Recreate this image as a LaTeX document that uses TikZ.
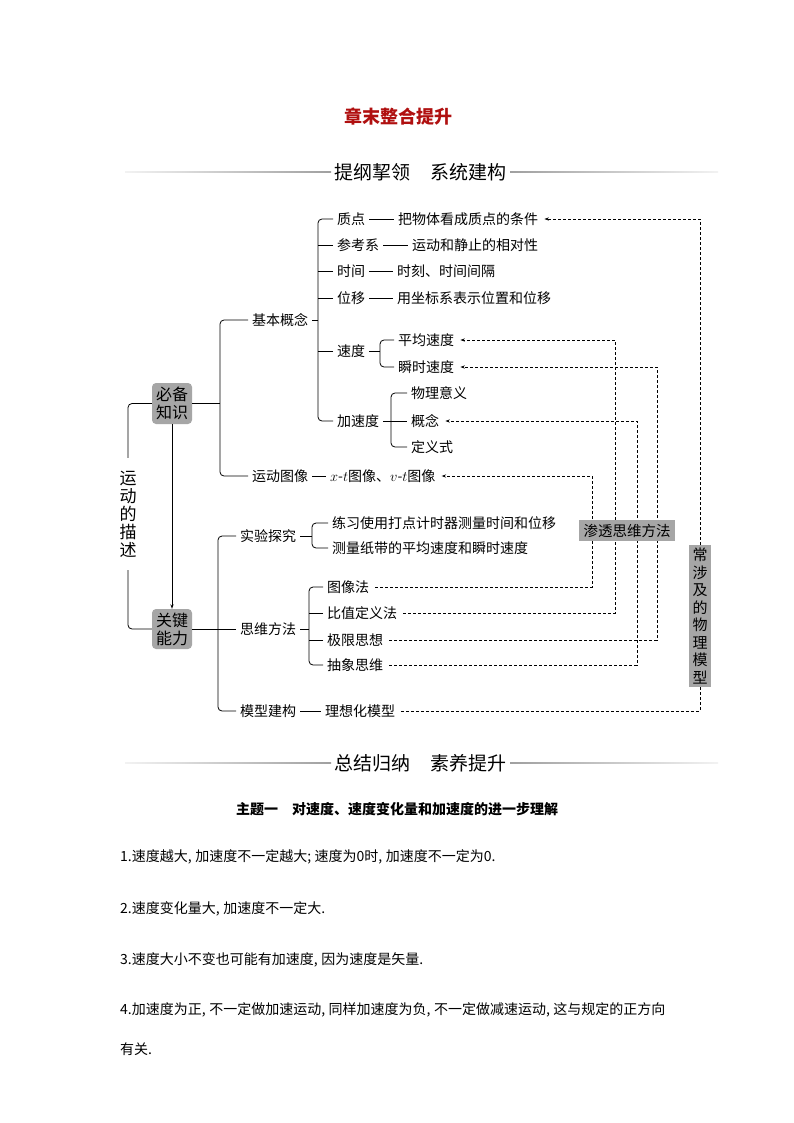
\documentclass[tikz,border=0pt]{standalone}
\usepackage{fontspec}
\setmainfont{Noto Sans CJK SC}
\usetikzlibrary{arrows.meta}
\definecolor{ttlred}{RGB}{176,16,16}
\definecolor{boxgray}{RGB}{166,166,166}
\newcommand{\cm}{,\hspace{3.5pt}}
\tikzset{
  every node/.style={font=\fontsize{14}{16}\selectfont},
  txt/.style={anchor=west, inner xsep=4pt, inner ysep=1pt},
  ln/.style={line width=0.8pt},
  rc/.style={ln, rounded corners=4pt},
  dsh/.style={line width=0.7pt, dash pattern=on 3pt off 2pt, shorten <=2pt, shorten >=2pt},
  tip/.style={-{Stealth[length=4.5pt,width=3.2pt]}},
  gbox/.style={fill=boxgray, inner sep=0pt, align=center},
  hdr/.style={font=\fontsize{19}{21}\selectfont},
  body/.style={anchor=west, inner sep=0pt}
}
\begin{document}
\begin{tikzpicture}[x=1pt,y=-1pt]
\useasboundingbox (0,0) rectangle (794,1123);
\fill[white] (0,0) rectangle (794,1123);

% title and headers
\node[font=\bfseries\fontsize{18}{20}\selectfont, text=ttlred] (title) at (398,117) {章末整合提升};
\node[hdr] (h1) at (420.5,172) {提纲挈领\hspace{1.1em}系统建构};
\shade[left color=gray!10, right color=gray!75] (125,171.3) rectangle (331,172.7);
\shade[left color=gray!75, right color=gray!10] (510,171.3) rectangle (718,172.7);

% left boxes
\node[gbox, rounded corners=4pt, minimum width=40pt, minimum height=41pt, font=\fontsize{16}{18}\selectfont] (bx1) at (172,403.5) {必备\\知识};
\node[gbox, rounded corners=4pt, minimum width=40pt, minimum height=40pt, font=\fontsize{16}{18}\selectfont] (bx2) at (172,629) {关键\\能力};
\node[inner sep=0pt, minimum height=112pt, align=center, font=\fontsize{17}{18}\selectfont] (ms) at (128,514) {运\\动\\的\\描\\述};

% upper tree
\coordinate (b1) at (220,403.5);
\node[txt] (jbgn) at (248,320) {基本概念};
\node[txt] (ydtx) at (248,476) {运动图像};
\node[txt] (xt) at (326,476) {$x$-$t$图像、$v$-$t$图像};

\coordinate (k1) at (318,320);
\node[txt] (zd) at (333,219) {质点};
\node[txt] (tj) at (394,219) {把物体看成质点的条件};
\node[txt] (ckx) at (333,245) {参考系};
\node[txt] (xd) at (408,245) {运动和静止的相对性};
\node[txt] (sj) at (333,271) {时间};
\node[txt] (sk) at (393,271) {时刻、时间间隔};
\node[txt] (wy) at (333,298) {位移};
\node[txt] (zb) at (393,298) {用坐标系表示位置和位移};
\node[txt] (sd) at (333,351) {速度};
\coordinate (k2) at (380,351);
\node[txt] (pj) at (394,340) {平均速度};
\node[txt] (ss) at (394,367) {瞬时速度};
\node[txt] (jsd) at (333,421) {加速度};
\coordinate (k3) at (391,421);
\node[txt] (wl) at (407,393) {物理意义};
\node[txt] (gn) at (407,421) {概念};
\node[txt] (dy) at (407,447) {定义式};

% lower tree
\coordinate (b2) at (218,629);
\node[txt] (syt) at (236,536) {实验探究};
\coordinate (k4) at (312,536);
\node[txt] (lx) at (328,523) {练习使用打点计时器测量时间和位移};
\node[txt] (cl) at (328,548) {测量纸带的平均速度和瞬时速度};
\node[txt] (swff) at (236,629) {思维方法};
\coordinate (k5) at (309,629);
\node[txt] (txf) at (323,587) {图像法};
\node[txt] (bz) at (323,613) {比值定义法};
\node[txt] (jx) at (323,640) {极限思想};
\node[txt] (cx) at (323,665) {抽象思维};
\node[txt] (mxjg) at (236,711) {模型建构};
\node[txt] (lxh) at (321,711) {理想化模型};

% solid connectors
\draw[rc] (bx1.west) -| (ms.north);
\draw[rc] (ms.south) |- (bx2.west);
\draw[ln, tip] (bx1.south) -- (bx2.north);

\draw[ln] (bx1.east) -- (b1);
\draw[rc] (jbgn.west) -| (b1) |- (ydtx.west);
\draw[ln] (ydtx.east) -- (xt.west);

\draw[ln] (jbgn.east) -- (k1);
\draw[rc] (zd.west) -| (k1) |- (jsd.west);
\draw[ln] (ckx.west) -- (ckx.west -| k1);
\draw[ln] (sj.west) -- (sj.west -| k1);
\draw[ln] (wy.west) -- (wy.west -| k1);
\draw[ln] (sd.west) -- (sd.west -| k1);
\draw[ln] (zd.east) -- (tj.west);
\draw[ln] (ckx.east) -- (xd.west);
\draw[ln] (sj.east) -- (sk.west);
\draw[ln] (wy.east) -- (zb.west);

\draw[ln] (sd.east) -- (k2);
\draw[rc] (pj.west) -| (k2) |- (ss.west);
\draw[ln] (jsd.east) -- (gn.west);
\draw[rc] (wl.west) -| (k3) |- (dy.west);

\draw[ln] (bx2.east) -- (b2);
\draw[rc] (syt.west) -| (b2) |- (mxjg.west);
\draw[ln] (swff.west) -- (b2);
\draw[ln] (syt.east) -- (k4);
\draw[rc] (lx.west) -| (k4) |- (cl.west);
\draw[ln] (swff.east) -- (k5);
\draw[rc] (txf.west) -| (k5) |- (cx.west);
\draw[ln] (bz.west) -- (bz.west -| k5);
\draw[ln] (jx.west) -- (jx.west -| k5);
\draw[ln] (mxjg.east) -- (lxh.west);

% dashed connectors
\coordinate (d1) at (592,530);
\coordinate (d2) at (615,530);
\coordinate (d3) at (657,530);
\coordinate (d4) at (637,530);
\coordinate (d5) at (700,616);
\draw[dsh, tip] (txf.east) -| (d1) |- (xt.east);
\draw[dsh, tip] (bz.east) -| (d2) |- (pj.east);
\draw[dsh, tip] (jx.east) -| (d3) |- (ss.east);
\draw[dsh, tip] (cx.east) -| (d4) |- (gn.east);
\draw[dsh, tip] (lxh.east) -| (d5) |- (tj.east);

% right boxes (on top of dashed lines)
\node[gbox, minimum width=96pt, minimum height=21pt, font=\fontsize{14.5}{16}\selectfont] (st) at (627,530.5) {渗透思维方法};
\node[gbox, minimum width=22pt, minimum height=142pt, font=\fontsize{15}{17.5}\selectfont] (cs) at (700,616) {常\\涉\\及\\的\\物\\理\\模\\型};

% second header
\node[hdr] (h2) at (420.5,763) {总结归纳\hspace{1.1em}素养提升};
\shade[left color=gray!10, right color=gray!75] (125,762.3) rectangle (331,763.7);
\shade[left color=gray!75, right color=gray!10] (510,762.3) rectangle (718,763.7);

% body text
\node[font=\bfseries\fontsize{14}{16}\selectfont] (zt) at (397,809) {主题一\hspace{1em}对速度、速度变化量和加速度的进一步理解};
\node[body] (p1) at (120,857) {1.速度越大\cm 加速度不一定越大;\hspace{3.5pt}速度为0时\cm 加速度不一定为0.};
\node[body] (p2) at (120,909) {2.速度变化量大\cm 加速度不一定大.};
\node[body] (p3) at (120,960) {3.速度大小不变也可能有加速度\cm 因为速度是矢量.};
\node[body] (p4) at (120,1010) {4.加速度为正\cm 不一定做加速运动\cm 同样加速度为负\cm 不一定做减速运动\cm 这与规定的正方向};
\node[body] (p5) at (120,1049) {有关.};
\end{tikzpicture}
\end{document}
